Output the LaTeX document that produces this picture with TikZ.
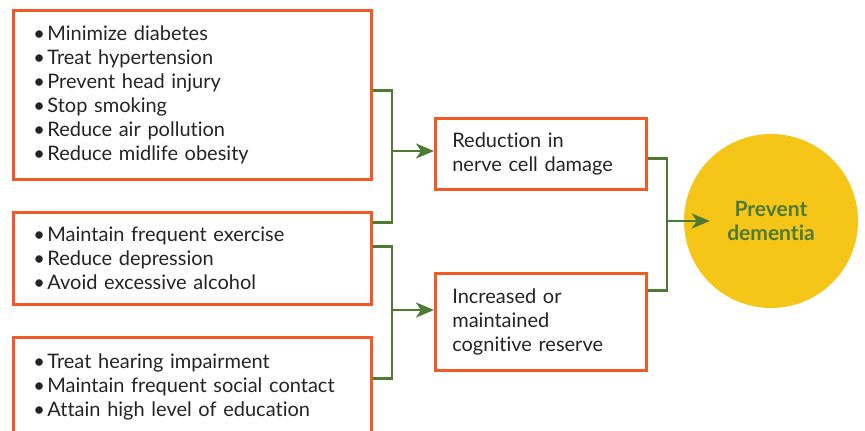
\documentclass[tikz,border=0pt]{standalone}
\usepackage{fontspec}
\setmainfont{Lato}[Ligatures={NoCommon,NoRare}]
\usetikzlibrary{arrows.meta}
\definecolor{rim}{HTML}{F15A24}
\definecolor{leaf}{HTML}{4F7A33}
\definecolor{sun}{HTML}{F5C518}
\definecolor{ink}{HTML}{242424}
\newcommand\bul{\textbullet\hspace{2.5pt}}

\begin{document}
\begin{tikzpicture}[x=1pt,y=-1pt,
  card/.style={draw=rim,line width=2.6pt,fill=white,anchor=north west,text=ink,align=left,
    inner ysep=0pt,font=\fontsize{20}{24}\selectfont},
  link/.style={draw=leaf,line width=2.4pt},
  feed/.style={link,-{Stealth[length=18pt,width=15pt,inset=5pt]}}]
\useasboundingbox (0,0) rectangle (865,431);
\clip (0,0) rectangle (865,431);
% risk factors, three groups
\node[card,inner xsep=20pt,text width=318pt,minimum height=169pt] (risks) at (12,9)
  {\bul Minimize diabetes\\\bul Treat hypertension\\\bul Prevent head injury\\
   \bul Stop smoking\\\bul Reduce air pollution\\\bul Reduce midlife obesity};
\node[card,inner xsep=20pt,text width=318pt,minimum height=92pt] (lifestyle) at (12,211)
  {\bul Maintain frequent exercise\\\bul Reduce depression\\\bul Avoid excessive alcohol};
\node[card,inner xsep=20pt,text width=318pt,minimum height=100pt] (social) at (12,336)
  {\bul Treat hearing impairment\\\bul Maintain frequent social contact\\\bul Attain high level of education};
% mechanisms
\node[card,inner xsep=17pt,text width=177pt,minimum height=71pt] (damage) at (434,117)
  {Reduction in\\nerve cell damage};
\node[card,inner xsep=17pt,text width=177pt,minimum height=97pt] (reserve) at (434,272)
  {Increased or\\maintained\\cognitive reserve};
% outcome
\node[circle,fill=sun,minimum size=174pt,inner sep=0pt,align=center,text=leaf,
  font=\fontsize{21}{24}\selectfont\bfseries] (goal) at (771,221) {Prevent\\dementia};

\coordinate (fork1) at (392,151);
\coordinate (fork2) at (392,310);
\coordinate (fork3) at (667,221);
\draw[link] ([yshift=4.5]risks.east) -| (fork1) |- ([yshift=36]lifestyle.east);
\draw[feed] (fork1) -- (damage.west |- fork1);
\draw[link] ([yshift=12]lifestyle.east) -| (fork2) |- ([yshift=9]social.east);
\draw[feed] (fork2) -- (reserve.west |- fork2);
\draw[link] ([yshift=-4.5]damage.east) -| (fork3) |- ([yshift=31.5]reserve.east);
\draw[feed] (fork3) -- ([xshift=26]goal.west);
\end{tikzpicture}
\end{document}
